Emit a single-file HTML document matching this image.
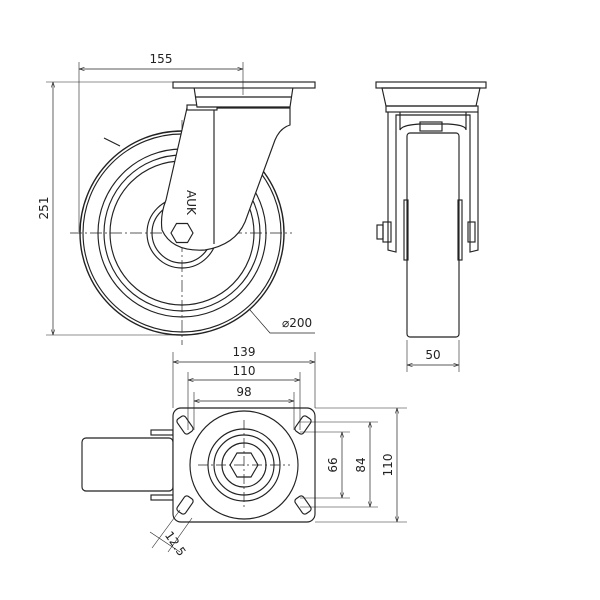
<!DOCTYPE html>
<html><head><style>body{margin:0;background:#fff}svg{display:block}text{font-family:"DejaVu Sans","Liberation Sans",sans-serif;font-size:12px;fill:#222}</style></head><body>
<svg width="600" height="600" viewBox="0 0 600 600" xmlns="http://www.w3.org/2000/svg">
<defs><marker id="a" markerWidth="8" markerHeight="6" refX="8" refY="3" orient="auto-start-reverse"><path d="M0,0.5 L8,3 L0,5.5" fill="none" stroke="#222" stroke-width="0.8"/></marker></defs>
<g fill="none" stroke="#222" stroke-width="1.15">
<!-- front view wheel -->
<circle cx="182" cy="233" r="102" stroke-width="1.4"/>
<circle cx="182" cy="233" r="99"/>
<circle cx="182" cy="233" r="84"/>
<circle cx="182" cy="233" r="78"/>
<circle cx="182" cy="233" r="72"/>
<circle cx="182" cy="233" r="35"/>
<circle cx="182" cy="233" r="30"/>
<g stroke-dasharray="12,3,2,3" stroke-width="0.7"><line x1="70" y1="233" x2="292" y2="233"/><line x1="182" y1="120" x2="182" y2="345"/></g>
<!-- fork -->
<path d="M187,108 L290,108 L290,125 Q280,128 275,140 L245,222 Q235,245 205,250 Q172,252 162,230 Q160,215 166,200 Z" fill="#fff"/>
<line x1="214" y1="108" x2="214" y2="244"/>
<rect x="187" y="105" width="30" height="5" fill="#fff"/>
<path d="M194,87 L293,87 L290,107 L197,107 Z" fill="#fff"/>
<line x1="195" y1="97" x2="292" y2="97"/>
<rect x="173" y="82" width="142" height="6" fill="#fff"/>
<polygon points="171,233 176.5,223.5 187.5,223.5 193,233 187.5,242.5 176.5,242.5" fill="#fff"/>
<line x1="120" y1="146" x2="104" y2="138"/>
<!-- dims front -->
<line x1="79" y1="62" x2="79" y2="232" stroke-width="0.6"/>
<line x1="243" y1="62" x2="243" y2="95" stroke-width="0.6"/>
<line x1="79" y1="69" x2="243" y2="69" stroke-width="0.7" marker-start="url(#a)" marker-end="url(#a)"/>
<line x1="46" y1="82" x2="173" y2="82" stroke-width="0.6"/>
<line x1="46" y1="335" x2="185" y2="335" stroke-width="0.6"/>
<line x1="53" y1="82" x2="53" y2="335" stroke-width="0.7" marker-start="url(#a)" marker-end="url(#a)"/>
<polyline points="250,310 270,333 315,333" stroke-width="0.7"/>
<!-- side view -->
<rect x="376" y="82" width="110" height="6"/>
<path d="M382,88 L480,88 L476,106 L386,106 Z"/>
<rect x="386" y="106" width="92" height="6"/>
<path d="M388,112 L388,250 L396,252 L396,115 L470,115 L470,252 L478,250 L478,112"/>
<path d="M400,112 L400,130 Q402,125 420,124 L448,124 Q466,125 466,130 L466,112"/>
<rect x="420" y="122" width="22" height="9"/>
<rect x="407" y="133" width="52" height="204" rx="3" fill="#fff"/>
<rect x="404" y="200" width="4" height="60"/><rect x="458" y="200" width="4" height="60"/>
<rect x="383" y="222" width="8" height="20"/><rect x="377" y="225" width="6" height="14"/>
<rect x="468" y="222" width="7" height="20"/>
<line x1="407" y1="340" x2="407" y2="372" stroke-width="0.6"/>
<line x1="459" y1="340" x2="459" y2="372" stroke-width="0.6"/>
<line x1="407" y1="365" x2="459" y2="365" stroke-width="0.7" marker-start="url(#a)" marker-end="url(#a)"/>
<!-- top view -->
<rect x="82" y="438" width="91" height="53" rx="4"/>
<rect x="151" y="430" width="22" height="5"/><rect x="151" y="495" width="22" height="5"/>
<rect x="173" y="408" width="142" height="114" rx="8" fill="#fff"/>
<circle cx="244" cy="465" r="54"/>
<circle cx="244" cy="465" r="36"/>
<circle cx="244" cy="465" r="30"/>
<circle cx="244" cy="465" r="22"/>
<polygon points="230,465 237,453 251,453 258,465 251,477 237,477"/>
<g stroke-dasharray="10,3,2,3" stroke-width="0.7"><line x1="198" y1="465" x2="290" y2="465"/><line x1="244" y1="420" x2="244" y2="510"/></g>
<rect x="180" y="416" width="10" height="18" rx="3" transform="rotate(-35 185 425)"/>
<rect x="298" y="416" width="10" height="18" rx="3" transform="rotate(35 303 425)"/>
<rect x="180" y="496" width="10" height="18" rx="3" transform="rotate(35 185 505)"/>
<rect x="298" y="496" width="10" height="18" rx="3" transform="rotate(-35 303 505)"/>
<g stroke-width="0.6">
<line x1="173" y1="352" x2="173" y2="408"/><line x1="315" y1="352" x2="315" y2="408"/>
<line x1="188" y1="372" x2="188" y2="430"/><line x1="300" y1="372" x2="300" y2="430"/>
<line x1="194" y1="392" x2="194" y2="430"/><line x1="294" y1="392" x2="294" y2="430"/>
<line x1="315" y1="408" x2="407" y2="408"/><line x1="315" y1="522" x2="407" y2="522"/>
<line x1="300" y1="422" x2="378" y2="422"/><line x1="300" y1="507" x2="378" y2="507"/>
<line x1="300" y1="432" x2="350" y2="432"/><line x1="300" y1="498" x2="350" y2="498"/>
<line x1="180" y1="510" x2="152" y2="548"/><line x1="192" y1="518" x2="168" y2="552"/>
<line x1="150" y1="532" x2="180" y2="552"/>
</g>
<g stroke-width="0.7">
<line x1="173" y1="362" x2="315" y2="362" marker-start="url(#a)" marker-end="url(#a)"/>
<line x1="188" y1="380" x2="300" y2="380" marker-start="url(#a)" marker-end="url(#a)"/>
<line x1="194" y1="401" x2="294" y2="401" marker-start="url(#a)" marker-end="url(#a)"/>
<line x1="342" y1="432" x2="342" y2="498" marker-start="url(#a)" marker-end="url(#a)"/>
<line x1="370" y1="422" x2="370" y2="507" marker-start="url(#a)" marker-end="url(#a)"/>
<line x1="397" y1="408" x2="397" y2="522" marker-start="url(#a)" marker-end="url(#a)"/>
</g>
</g>
<text x="161" y="63" text-anchor="middle">155</text>
<text transform="translate(48,208) rotate(-90)" text-anchor="middle">251</text>
<text x="282" y="327">⌀200</text>
<text x="433" y="359" text-anchor="middle">50</text>
<text x="244" y="356" text-anchor="middle">139</text>
<text x="244" y="375" text-anchor="middle">110</text>
<text x="244" y="396" text-anchor="middle">98</text>
<text transform="translate(337,465) rotate(-90)" text-anchor="middle">66</text>
<text transform="translate(365,465) rotate(-90)" text-anchor="middle">84</text>
<text transform="translate(392,465) rotate(-90)" text-anchor="middle">110</text>
<text transform="translate(172,546) rotate(55)" text-anchor="middle" font-size="11">12.5</text>
<text transform="translate(187,190) rotate(90)" font-size="7">AUK</text>
</svg>
</body></html>
